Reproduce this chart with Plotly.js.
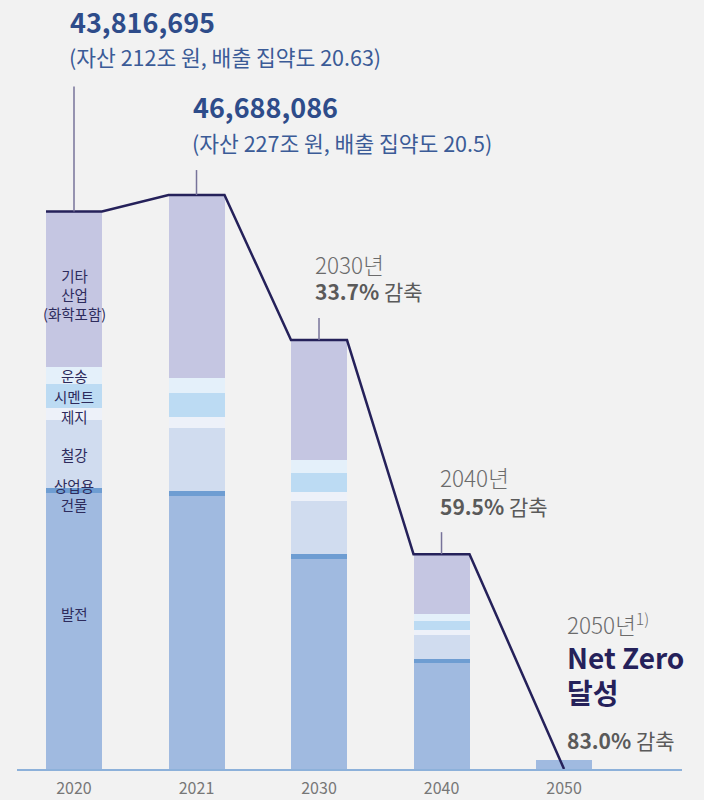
<!DOCTYPE html>
<html>
<head>
<meta charset="utf-8">
<script src="https://cdn.plot.ly/plotly-3.0.1.min.js"></script>
<style>
  html, body { margin: 0; padding: 0; background: #F2F2F2; }
  #chart { width: 704px; height: 800px; }
</style>
</head>
<body>
<div id="chart"></div>
<script>
// ---- data (emissions, million tCO2e) ----
const years = ['2020', '2021', '2030', '2040', '2050'];
const power      = [21.67, 21.44, 16.49, 8.32, 0.71];   // 발전
const buildings  = [0.37, 0.39, 0.39, 0.31, 0];        // 상업용 건물
const steel      = [5.36, 4.95, 4.16, 1.88, 0];        // 철강
const paper      = [0.94, 0.86, 0.71, 0.39, 0];        // 제지
const cement     = [1.88, 1.88, 1.49, 0.71, 0];        // 시멘트
const transport  = [1.33, 1.18, 1.02, 0.55, 0];        // 운송
const otherInd   = [12.23, 14.37, 9.42, 4.71, 0];      // 기타 산업(화학포함)
const pathValues = [null, null, null, null, 0];        // 2050 net zero end point

const sectorNames = ['발전', '상업용<br>건물', '철강', '제지', '시멘트', '운송', '기타<br>산업<br>(화학포함)'];
const sectorSeries = [power, buildings, steel, paper, cement, transport, otherInd];
const sectorColors = ['#A0BAE0', '#6E9DD2', '#D0DCEF', '#EDF1F9', '#BCDBF3', '#E4F0FA', '#C5C6E2'];

const topLabels = [
  {num: '43,816,695', sub: '(자산 212조 원, 배출 집약도 20.63)'},
  {num: '46,688,086', sub: '(자산 227조 원, 배출 집약도 20.5)'}
];
const cutLabels = [
  {year: '2030년', pct: '33.7%'},
  {year: '2040년', pct: '59.5%'}
];
const finalLabel = {year: '2050년', note: '1)', title: 'Net Zero', title2: '달성', pct: '83.0%'};

// ---- layout constants ----
const FONT = '"Noto Sans CJK KR", "Noto Sans", sans-serif';
const barW = 0.457;
const xs = years.map((_, i) => i);
const totals = xs.map(i => sectorSeries.reduce((s, a) => s + a[i], 0));

const traces = sectorSeries.map((vals, k) => ({
  type: 'bar', x: xs, y: vals, width: barW,
  marker: {color: sectorColors[k], line: {width: 0}},
  hoverinfo: 'skip', showlegend: false
}));

// path line across bar tops
const lx = [], ly = [];
for (let i = 0; i < 4; i++) {
  lx.push(i - barW / 2, i + barW / 2);
  ly.push(totals[i], totals[i]);
}
lx.push(4); ly.push(pathValues[4]);
traces.push({
  type: 'scatter', mode: 'lines', x: lx, y: ly,
  line: {color: '#25215A', width: 2.5},
  hoverinfo: 'skip', showlegend: false
});

const PH = 769; // plot height in px (top margin 0)
const py = p => (PH - p) / PH;
const ann = [];
function add(o) { ann.push(Object.assign({showarrow: false, xanchor: 'left', yanchor: 'middle', xref: 'x', yref: 'paper'}, o)); }

const LIGHT = {family: FONT, size: 22.5, color: '#6B6B6B', weight: 300};
// top labels
const topY = [[22, 57], [107, 143]];
topLabels.forEach((t, i) => {
  add({x: i, xshift: -6, y: py(topY[i][0]), text: '<b>' + t.num + '</b>', font: {family: FONT, size: 27, color: '#2E4C8A'}});
  add({x: i, xshift: -7, y: py(topY[i][1]), text: t.sub, font: {family: FONT, size: 21.5, color: '#3B5B97'}});
});
const cutY = [[264, 291], [477, 506]];
const cutShift = [-6, -4];
cutLabels.forEach((c, j) => {
  const i = j + 2;
  add({x: i, xshift: cutShift[j], y: py(cutY[j][0]), text: c.year, font: LIGHT});
  add({x: i, xshift: cutShift[j], y: py(cutY[j][1]), text: '<b>' + c.pct + '</b> 감축', font: {family: FONT, size: 21, color: '#5A5A5A'}});
});
add({x: 4, xshift: 1, y: py(623), text: finalLabel.year + '<sup>' + finalLabel.note + '</sup>', font: LIGHT});
add({x: 4, xshift: 1, y: py(657), text: '<b>' + finalLabel.title + '</b>', font: {family: FONT, size: 28, color: '#25215A'}});
add({x: 4, xshift: 1, y: py(692), text: '<b>' + finalLabel.title2 + '</b>', font: {family: FONT, size: 28, color: '#25215A'}});
add({x: 4, xshift: 1, y: py(740), text: '<b>' + finalLabel.pct + '</b> 감축', font: {family: FONT, size: 21, color: '#5A5A5A'}});

// sector labels on 2020 bar
const labelShift = [18, -4, 0, -2, 0, 0, -5];
let base = 0;
sectorSeries.forEach((vals, k) => {
  const mid = base + vals[0] / 2;
  base += vals[0];
  ann.push({x: 0, y: mid, xref: 'x', yref: 'y', yshift: labelShift[k], showarrow: false,
    xanchor: 'center', yanchor: 'middle', text: sectorNames[k],
    font: {family: FONT, size: 14.5, color: '#2D2B5C'}});
});

// leader lines
const leaderLen = [125, 25, 22, 22];
const shapes = leaderLen.map((len, i) => ({
  type: 'line', xref: 'x', yref: 'y', ysizemode: 'pixel', yanchor: totals[i],
  x0: i, x1: i, y0: 0, y1: len,
  line: {color: '#77739A', width: 1.5}
}));

const layout = {
  width: 704, height: 800,
  margin: {l: 17, r: 22, t: 0, b: 31},
  paper_bgcolor: '#F2F2F2', plot_bgcolor: '#F2F2F2',
  barmode: 'stack', showlegend: false, hovermode: false,
  font: {family: FONT},
  xaxis: {
    range: [-0.4653, 4.963], tickvals: xs, ticktext: years,
    showgrid: false, zeroline: false, showline: true, linecolor: '#8DB1DA', linewidth: 2,
    ticks: '', tickfont: {family: FONT, size: 16, color: '#777777'}, ticklabelstandoff: 4,
    fixedrange: true
  },
  yaxis: {range: [0, 60.386], visible: false, fixedrange: true},
  annotations: ann,
  shapes: shapes
};

Plotly.newPlot('chart', traces, layout, {staticPlot: true, displayModeBar: false});
</script>
</body>
</html>
